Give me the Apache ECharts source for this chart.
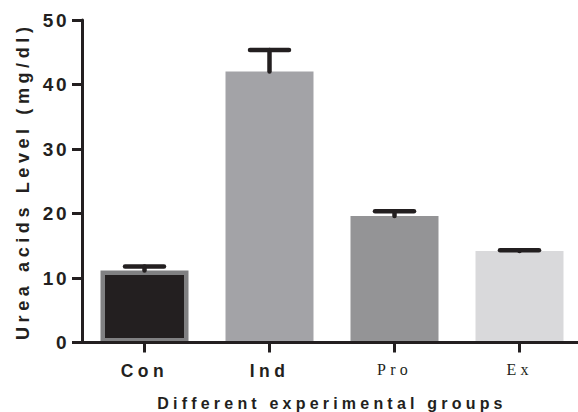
<!DOCTYPE html>
<html>
<head>
<meta charset="utf-8">
<script src="https://cdn.jsdelivr.net/npm/echarts@6/dist/echarts.min.js"></script>
<style>
  html, body { margin: 0; padding: 0; background: #ffffff; }
  #chart { width: 578px; height: 412px; }
  /* tracked lettering, keyed by font size of each text group */
  #chart text[style*="19px"] { letter-spacing: 2.5px; }
  #chart text[style*="18px"] { letter-spacing: 4.6px; }
  #chart text[style*="17.5px"] { letter-spacing: 4.5px; }
  #chart text[style*="16px"] { letter-spacing: 4.2px; }
</style>
</head>
<body>
<div id="chart"></div>
<script>
// Urea acid level per experimental group (mean and upper error)
const categories = ['Con', 'Ind', 'Pro', 'Ex'];
const meanValues = [11.15, 42.0, 19.6, 14.2];
const errorValues = [0.65, 3.35, 0.73, 0.1];
const yTicks = [0, 10, 20, 30, 40, 50];
const barColors = ['#231f20', '#a3a3a7', '#949496', '#d9d9db'];
const serifLabels = ['Pro', 'Ex'];

const ink = '#231f20';

const chart = echarts.init(document.getElementById('chart'), null, { renderer: 'svg' });

const axisData = categories.map(name => {
  const serif = serifLabels.includes(name);
  return {
    value: name,
    textStyle: serif
      ? { fontFamily: '"Liberation Serif", "Times New Roman", serif', fontWeight: 'normal', fontSize: 16 }
      : { fontFamily: '"Liberation Sans", Arial, sans-serif', fontWeight: 'bold', fontSize: 17.5 }
  };
});

const barData = meanValues.map((v, i) => {
  const item = { value: v, itemStyle: { color: barColors[i] } };
  if (i === 0) {
    item.itemStyle.borderColor = '#808082';
    item.itemStyle.borderWidth = 4.5;
  }
  return item;
});

const errorData = meanValues.map((v, i) => [i, v, v + errorValues[i]]);

chart.setOption({
  animation: false,
  backgroundColor: '#ffffff',
  grid: {
    left: 82, top: 20, width: 500, height: 322.5,
    containLabel: false,
    outerBoundsMode: 'none'
  },
  xAxis: {
    type: 'category',
    data: axisData,
    z: 5,
    name: 'Different experimental groups',
    nameLocation: 'middle',
    nameGap: 53,
    nameTextStyle: {
      fontFamily: '"Liberation Sans", Arial, sans-serif',
      fontWeight: 'bold',
      fontSize: 16,
      color: ink
    },
    axisLine: { show: true, lineStyle: { color: ink, width: 3 } },
    axisTick: { show: true, alignWithLabel: true, length: 10, lineStyle: { color: ink, width: 3 } },
    axisLabel: { color: ink, margin: 19 },
    splitLine: { show: false }
  },
  yAxis: {
    type: 'value',
    min: yTicks[0],
    max: yTicks[yTicks.length - 1],
    interval: yTicks[1] - yTicks[0],
    z: 5,
    name: 'Urea acids Level (mg/dl)',
    nameLocation: 'middle',
    nameRotate: 90,
    nameGap: 50,
    nameTextStyle: {
      fontFamily: '"Liberation Sans", Arial, sans-serif',
      fontWeight: 'bold',
      fontSize: 18,
      color: ink
    },
    axisLine: { show: true, lineStyle: { color: ink, width: 3 } },
    axisTick: { show: true, length: 10, lineStyle: { color: ink, width: 3 } },
    axisLabel: {
      color: ink,
      margin: 13,
      fontFamily: '"Liberation Sans", Arial, sans-serif',
      fontWeight: 'bold',
      fontSize: 19
    },
    splitLine: { show: false }
  },
  series: [
    {
      type: 'bar',
      data: barData,
      barWidth: 88,
      z: 2
    },
    {
      type: 'custom',
      data: errorData,
      encode: { x: 0, y: [1, 2] },
      z: 3,
      renderItem(params, api) {
        const idx = api.value(0);
        const base = api.coord([idx, api.value(1)]);
        const top = api.coord([idx, api.value(2)]);
        const halfCap = api.size([1, 0])[0] * 0.156;
        return {
          type: 'group',
          children: [
            {
              type: 'line',
              shape: { x1: base[0], y1: base[1], x2: top[0], y2: top[1] },
              style: { stroke: ink, lineWidth: 4.5, lineCap: 'round' }
            },
            {
              type: 'line',
              shape: { x1: top[0] - halfCap, y1: top[1], x2: top[0] + halfCap, y2: top[1] },
              style: { stroke: ink, lineWidth: 4.5, lineCap: 'round' }
            }
          ]
        };
      }
    }
  ]
});
</script>
</body>
</html>
